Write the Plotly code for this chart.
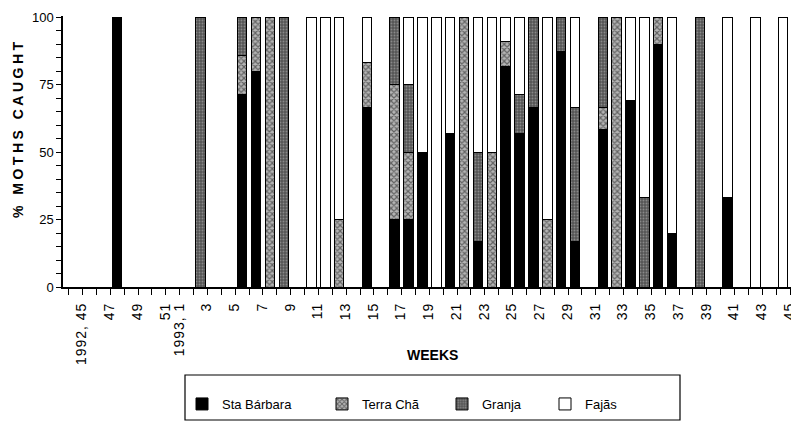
import plotly.graph_objects as go

# ---- data -------------------------------------------------------------
weeks_1992 = [45, 46, 47, 48, 49, 50, 51]
weeks_1993 = list(range(1, 46))
all_weeks = [f"1992-{w}" for w in weeks_1992] + [f"1993-{w}" for w in weeks_1993]

tick_weeks = ["1992-45", "1992-47", "1992-49", "1992-51", "1993-1", "1993-3", "1993-5",
              "1993-7", "1993-9", "1993-11", "1993-13", "1993-15", "1993-17", "1993-19",
              "1993-21", "1993-23", "1993-25", "1993-27", "1993-29", "1993-31", "1993-33",
              "1993-35", "1993-37", "1993-39", "1993-41", "1993-43", "1993-45"]
tick_text = ["1992, 45", "47", "49", "51", "1993, 1", "3", "5", "7", "9", "11", "13", "15",
             "17", "19", "21", "23", "25", "27", "29", "31", "33", "35", "37", "39", "41",
             "43", "45"]

sample_weeks = ["1992-48", "1993-3", "1993-6", "1993-7", "1993-8", "1993-9", "1993-11",
                "1993-12", "1993-13", "1993-15", "1993-17", "1993-18", "1993-19", "1993-20",
                "1993-21", "1993-22", "1993-23", "1993-24", "1993-25", "1993-26", "1993-27",
                "1993-28", "1993-29", "1993-30", "1993-32", "1993-33", "1993-34", "1993-35",
                "1993-36", "1993-37", "1993-39", "1993-41", "1993-43", "1993-45"]
sta_barbara = [100, 0, 71.4, 80, 0, 0, 0, 0, 0, 66.7, 25, 25, 50, 0, 57.1, 0, 16.7, 0,
               81.8, 57.1, 66.7, 0, 87.5, 16.7, 58.3, 0, 69.2, 0, 90, 20, 0, 33.3, 0, 0]
terra_cha = [0, 0, 14.3, 20, 100, 0, 0, 0, 25, 16.7, 50, 25, 0, 0, 0, 100, 0, 50,
             9.1, 0, 0, 25, 0, 0, 8.3, 100, 0, 0, 10, 0, 0, 0, 0, 0]
granja = [0, 100, 14.3, 0, 0, 100, 0, 0, 0, 0, 25, 25, 0, 0, 0, 0, 33.3, 0,
          0, 14.3, 33.3, 0, 12.5, 50, 33.3, 0, 0, 33.3, 0, 0, 100, 0, 0, 0]
fajas = [0, 0, 0, 0, 0, 0, 100, 100, 75, 16.7, 0, 25, 50, 100, 42.9, 0, 50, 50,
         9.1, 28.6, 0, 75, 0, 33.3, 0, 0, 30.8, 66.7, 0, 80, 0, 66.7, 100, 100]

series_names = ["Sta Bárbara", "Terra Chã", "Granja", "Fajãs"]

# ---- layout helpers (page body has an 8px margin) -----------------------
OFF = 8
W, H = 799 - OFF, 422 - OFF
PL, PR, PT, PB = 63, 797, 17.3 - 0.5 * 2.697, 287   # plot box in page pixels
ML, MR, MT, MB = PL - OFF, (W + OFF) - PR, PT - OFF, (H + OFF) - PB
PW, PH = PR - PL, PB - PT


def px_x(px):
    return (px - PL) / PW


def px_y(py):
    return (PB - py) / PH


x_pos = [all_weeks.index(w) for w in sample_weeks]

styles = [
    dict(color="black", line=dict(color="black", width=1)),
    dict(color="white", line=dict(color="black", width=1),
         pattern=dict(shape="x", bgcolor="#b5b5b5", fgcolor="#111111", size=4, solidity=0.5)),
    dict(color="#666666", line=dict(color="black", width=1),
         pattern=dict(shape=".", bgcolor="#555555", fgcolor="#bdbdbd", size=3, solidity=0.3)),
    dict(color="white", line=dict(color="black", width=1)),
]

legend_text_x = [222, 362, 482, 585]

fig = go.Figure()
for k, (name, vals) in enumerate(zip(series_names,
                                     [sta_barbara, terra_cha, granja, fajas])):
    fig.add_trace(go.Bar(
        x=x_pos, y=[v if v else None for v in vals], name=name,
        width=0.68, marker=styles[k],
        legend="legend" if k == 0 else f"legend{k + 1}",
        hoverinfo="skip",
    ))

tick_vals = [all_weeks.index(w) + 0.45 for w in tick_weeks]
tick_labels = ['<span style="letter-spacing:1px">' + t + '</span>' for t in tick_text]
minor_vals = [i + 0.5 for i in range(-1, len(all_weeks))]

fig.update_layout(
    width=W, height=H,
    margin=dict(l=ML, r=MR, t=MT, b=MB, autoexpand=False),
    barmode="stack",
    plot_bgcolor="white", paper_bgcolor="white",
    font=dict(family="Liberation Sans, Arial, sans-serif", size=13, color="black"),
    xaxis=dict(
        range=[-0.91, 52.0], showgrid=False, zeroline=False, automargin=False,
        showline=True, linecolor="black", linewidth=2,
        tickmode="array", tickvals=tick_vals, ticktext=tick_labels,
        tickangle=-90, ticks="", tickfont=dict(size=14), ticklabelstandoff=8,
        minor=dict(tickmode="array", tickvals=minor_vals, ticks="outside",
                   ticklen=6, tickcolor="black", tickwidth=1),
    ),
    yaxis=dict(
        range=[0, 100.5], showgrid=False, zeroline=False, automargin=False,
        showline=True, linecolor="black", linewidth=1.5,
        tickmode="array", tickvals=[0, 25, 50, 75, 100],
        ticks="outside", ticklen=5, tickcolor="black", tickwidth=1,
        tickfont=dict(size=13),
        minor=dict(dtick=5, ticks="outside", ticklen=5, tickcolor="black", tickwidth=1),
    ),
    showlegend=True,
)

legend_keys = ["legend", "legend2", "legend3", "legend4"]
for key, tx in zip(legend_keys, legend_text_x):
    fig.update_layout({key: dict(
        xref="container", yref="container",
        x=(tx - 40 - OFF) / W, y=1 - (404 - OFF) / H, xanchor="left", yanchor="middle",
        orientation="h", bgcolor="rgba(0,0,0,0)", borderwidth=0,
        font=dict(size=13), itemclick=False, itemdoubleclick=False,
    )})

fig.add_shape(type="rect", xref="paper", yref="paper",
              x0=px_x(185), x1=px_x(680), y0=px_y(420), y1=px_y(375),
              line=dict(color="black", width=1.2), fillcolor="rgba(0,0,0,0)")

fig.add_annotation(text='<span style="letter-spacing:3.5px"><b>% MOTHS CAUGHT</b></span>',
                   xref="paper", yref="paper",
                   x=px_x(18), y=px_y(128), textangle=-90, showarrow=False,
                   font=dict(size=14, color="black"),
                   xanchor="center", yanchor="middle")
fig.add_annotation(text="<b>WEEKS</b>", xref="paper", yref="paper",
                   x=px_x(432), y=px_y(355), showarrow=False,
                   font=dict(size=14, color="black"), xanchor="center", yanchor="middle")

fig.write_html("out.html")
